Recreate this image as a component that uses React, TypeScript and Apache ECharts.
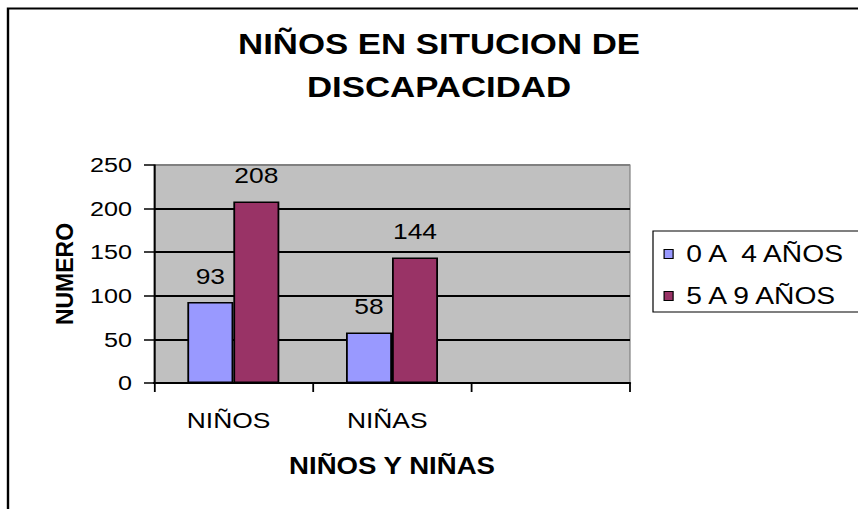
import React, { useEffect, useRef } from "react";
import * as echarts from "echarts";

const categories = ["NIÑOS", "NIÑAS", ""];
const seriesNames = ["0 A  4 AÑOS", "5 A 9 AÑOS"];
const values0a4 = [93, 58, null];
const values5a9 = [208, 144, null];
const yTicks = { min: 0, max: 250, interval: 50 };

const FONT = "'Liberation Sans', Arial, sans-serif";
// The reference's horizontal text is rendered ~1.2x wider than normal Arial.
const SX = 1.2;
const W = 858 / SX;
const H = 509;
const px = (x: number) => x / SX;

export default function App() {
  const ref = useRef<HTMLDivElement>(null);
  useEffect(() => {
    if (!ref.current) return;
    const chart = echarts.init(ref.current, undefined, { renderer: "svg" });
    chart.setOption({
      animation: false,
      backgroundColor: "#ffffff",
      textStyle: { fontFamily: FONT },
      title: {
        text: "NIÑOS EN SITUCION DE\nDISCAPACIDAD",
        left: px(439),
        top: 22,
        padding: 0,
        textAlign: "center",
        textStyle: { fontFamily: FONT, fontSize: 29, fontWeight: "bold", color: "#000", lineHeight: 43.5 },
      },
      graphic: [
        {
          type: "rect",
          shape: { x: px(8), y: 8.5, width: 900, height: 600 },
          style: { fill: "none", stroke: "#000", lineWidth: 2 },
          silent: true,
          z: -10,
        },
        {
          type: "text",
          x: px(65),
          y: 274,
          rotation: Math.PI / 2,
          scaleX: 1,
          scaleY: 1 / SX,
          style: {
            text: "NUMERO",
            fontFamily: FONT,
            fontSize: 23,
            fontWeight: "bold",
            fill: "#000",
            align: "center",
            verticalAlign: "middle",
          },
        },
      ],
      legend: {
        orient: "vertical",
        left: px(653),
        top: 231,
        padding: [11, 80, 4, px(10.5)],
        itemGap: 18,
        itemWidth: px(9),
        itemHeight: 9,
        borderColor: "#000",
        borderWidth: 1,
        backgroundColor: "#fff",
        icon: "rect",
        itemStyle: { borderColor: "#000", borderWidth: 1 },
        textStyle: { fontFamily: FONT, fontSize: 23.5, color: "#000", padding: [0, 0, 0, 6] },
        data: seriesNames,
      },
      grid: {
        left: px(154),
        top: 165,
        width: px(476),
        height: 218,
        show: true,
        backgroundColor: "#C0C0C0",
        borderColor: "#808080",
        borderWidth: 1,
      },
      xAxis: {
        type: "category",
        data: categories,
        name: "NIÑOS Y NIÑAS",
        nameLocation: "middle",
        nameGap: 71,
        nameTextStyle: { fontFamily: FONT, fontSize: 23, fontWeight: "bold", color: "#000" },
        axisLine: { show: true, lineStyle: { color: "#000", width: 2 } },
        axisTick: { show: true, length: 9, lineStyle: { color: "#000", width: 1.5 } },
        axisLabel: { fontFamily: FONT, fontSize: 22, color: "#000", margin: 26, padding: [0, 8, 0, 0] },
        z: 5,
      },
      yAxis: {
        type: "value",
        min: yTicks.min,
        max: yTicks.max,
        interval: yTicks.interval,
        axisLine: { show: true, lineStyle: { color: "#000", width: 1.5 } },
        axisTick: { show: true, length: px(10), lineStyle: { color: "#000", width: 1.5 } },
        axisLabel: { fontFamily: FONT, fontSize: 21, color: "#000", margin: px(22) },
        splitLine: {
          show: true,
          lineStyle: { color: ["#000", "#000", "#000", "#000", "#000", "#808080"], width: 2 },
        },
      },
      series: [
        {
          name: seriesNames[0],
          type: "bar",
          data: values0a4,
          barWidth: px(46),
          barGap: "0%",
          itemStyle: { color: "#9999FF", borderColor: "#000", borderWidth: 1.5 },
          label: { show: true, position: "top", distance: 15, fontFamily: FONT, fontSize: 22, color: "#000" },
        },
        {
          name: seriesNames[1],
          type: "bar",
          data: values5a9,
          barWidth: px(46),
          barGap: "0%",
          itemStyle: { color: "#993366", borderColor: "#000", borderWidth: 1.5 },
          label: { show: true, position: "top", distance: 15, fontFamily: FONT, fontSize: 22, color: "#000" },
        },
      ],
    });
    return () => chart.dispose();
  }, []);
  return (
    <div
      ref={ref}
      style={{
        width: W,
        height: H,
        position: "absolute",
        left: 0,
        top: 0,
        transform: `scaleX(${SX})`,
        transformOrigin: "0 0",
      }}
    />
  );
}
